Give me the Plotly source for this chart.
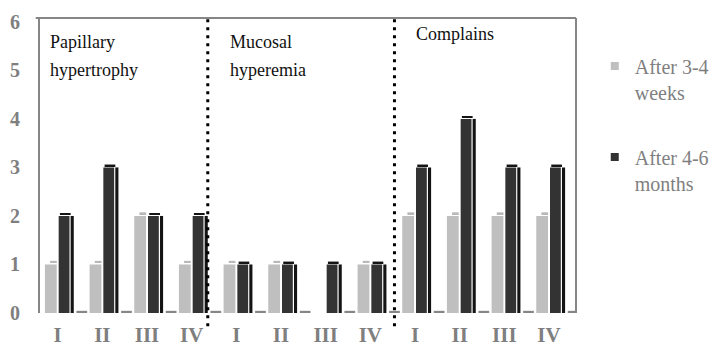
import plotly.graph_objects as go

# Categories: three complaint groups, four stages each
groups = ["Papillary<br>hypertrophy", "Mucosal<br>hyperemia", "Complains"]
stages = ["I", "II", "III", "IV"]
tick_labels = stages * 3

# Series values (number of patients)
after_weeks = [1, 1, 2, 1,  1, 1, 0, 1,  2, 2, 2, 2]
after_months = [2, 3, 2, 2,  1, 1, 1, 1,  3, 4, 3, 3]
empty_series = [0, 0, 0, 0,  0, 0, 0, 0,  0, 0, 0, 0]

x = list(range(len(tick_labels)))

GREY = "#BFBFBF"
DARK = "#333333"
EDGE = "#141414"
AXIS = "#868686"
TXT = "#7F7F7F"
SERIF = "Liberation Serif, Times New Roman, serif"

fig = go.Figure()

# front faces
fig.add_bar(x=x, y=after_weeks, offset=-0.286, width=0.264,
            marker=dict(color=GREY, line=dict(width=0)), showlegend=False, hoverinfo="skip")
fig.add_bar(x=x, y=after_months, offset=0.022, width=0.242,
            marker=dict(color=DARK, line=dict(width=0)), showlegend=False, hoverinfo="skip")

# pseudo-3D side and top faces
fig.add_bar(x=x, y=after_months, offset=0.29, width=0.07,
            marker=dict(color=EDGE, line=dict(width=0)), showlegend=False, hoverinfo="skip")
fig.add_bar(x=x, y=[0.04] * len(x), base=[v + 0.02 for v in after_months],
            offset=0.05, width=0.24,
            marker=dict(color=EDGE, line=dict(width=0)), showlegend=False, hoverinfo="skip")
fig.add_bar(x=x, y=[0.035] * len(x), base=[v + 0.04 if v else -1 for v in after_weeks],
            offset=-0.17, width=0.15,
            marker=dict(color="#B8B8B8", line=dict(width=0)), showlegend=False, hoverinfo="skip")
fig.add_bar(x=x, y=[0.035] * len(x), base=[v + 0.01 for v in empty_series],
            offset=0.42, width=0.24,
            marker=dict(color=AXIS, line=dict(width=0)), showlegend=False, hoverinfo="skip")

# legend entries
fig.add_scatter(x=[None], y=[None], mode="markers", name="After 3-4<br>weeks",
                marker=dict(symbol="square", size=8, color=GREY), legendgroup="a")
fig.add_scatter(x=[None], y=[None], mode="markers", name="After 4-6<br>months",
                marker=dict(symbol="square", size=8, color=DARK), legendgroup="b")

# dotted separators between groups
for xs in (3.36, 7.54):
    fig.add_shape(type="line", xref="x", yref="paper", x0=xs, x1=xs, y0=-0.045, y1=1,
                  line=dict(color="black", width=3, dash="3px,5px"), layer="above")

# plot frame (top and right)
fig.add_shape(type="line", xref="paper", yref="paper", x0=-0.008, x1=1, y0=1, y1=1,
              line=dict(color=AXIS, width=2))
fig.add_shape(type="line", xref="paper", yref="paper", x0=1, x1=1, y0=0, y1=1,
              line=dict(color=AXIS, width=2))

# group titles
title_pos = [(-0.22, 0.92), (3.82, 0.92), (7.98, 0.945)]
for (gx, gy), name in zip(title_pos, groups):
    lines = name.split("<br>")
    for k, line in enumerate(lines):
        fig.add_annotation(x=gx, y=gy - k * 0.095, xref="x", yref="paper",
                           text=line, showarrow=False, xanchor="left", yanchor="middle",
                           font=dict(family=SERIF, size=18, color="#111111"))

fig.update_layout(
    width=726, height=349,
    margin=dict(l=40, r=140, t=18, b=36),
    paper_bgcolor="white", plot_bgcolor="white",
    barmode="overlay",
    showlegend=True,
    legend=dict(x=1.035, y=0.903, xanchor="left", yanchor="top",
                font=dict(family=SERIF, size=20, color=TXT),
                tracegroupgap=36, valign="top", itemwidth=30,
                bgcolor="rgba(0,0,0,0)"),
    xaxis=dict(range=[-0.396, 11.604], tickmode="array", tickvals=x, ticktext=tick_labels,
               showgrid=False, zeroline=False, showline=False, ticks="",
               tickfont=dict(family=SERIF, size=21, color=TXT, weight="bold"),
               ticklabelstandoff=7, automargin=False),
    yaxis=dict(range=[0, 6.08], tickmode="array", tickvals=[0, 1, 2, 3, 4, 5, 6],
               showgrid=False, zeroline=False, showline=True, linecolor=AXIS, linewidth=2,
               ticks="", tickfont=dict(family=SERIF, size=20, color=TXT, weight="bold"),
               ticklabelstandoff=14, automargin=False),
)

fig.write_html("out.html")
